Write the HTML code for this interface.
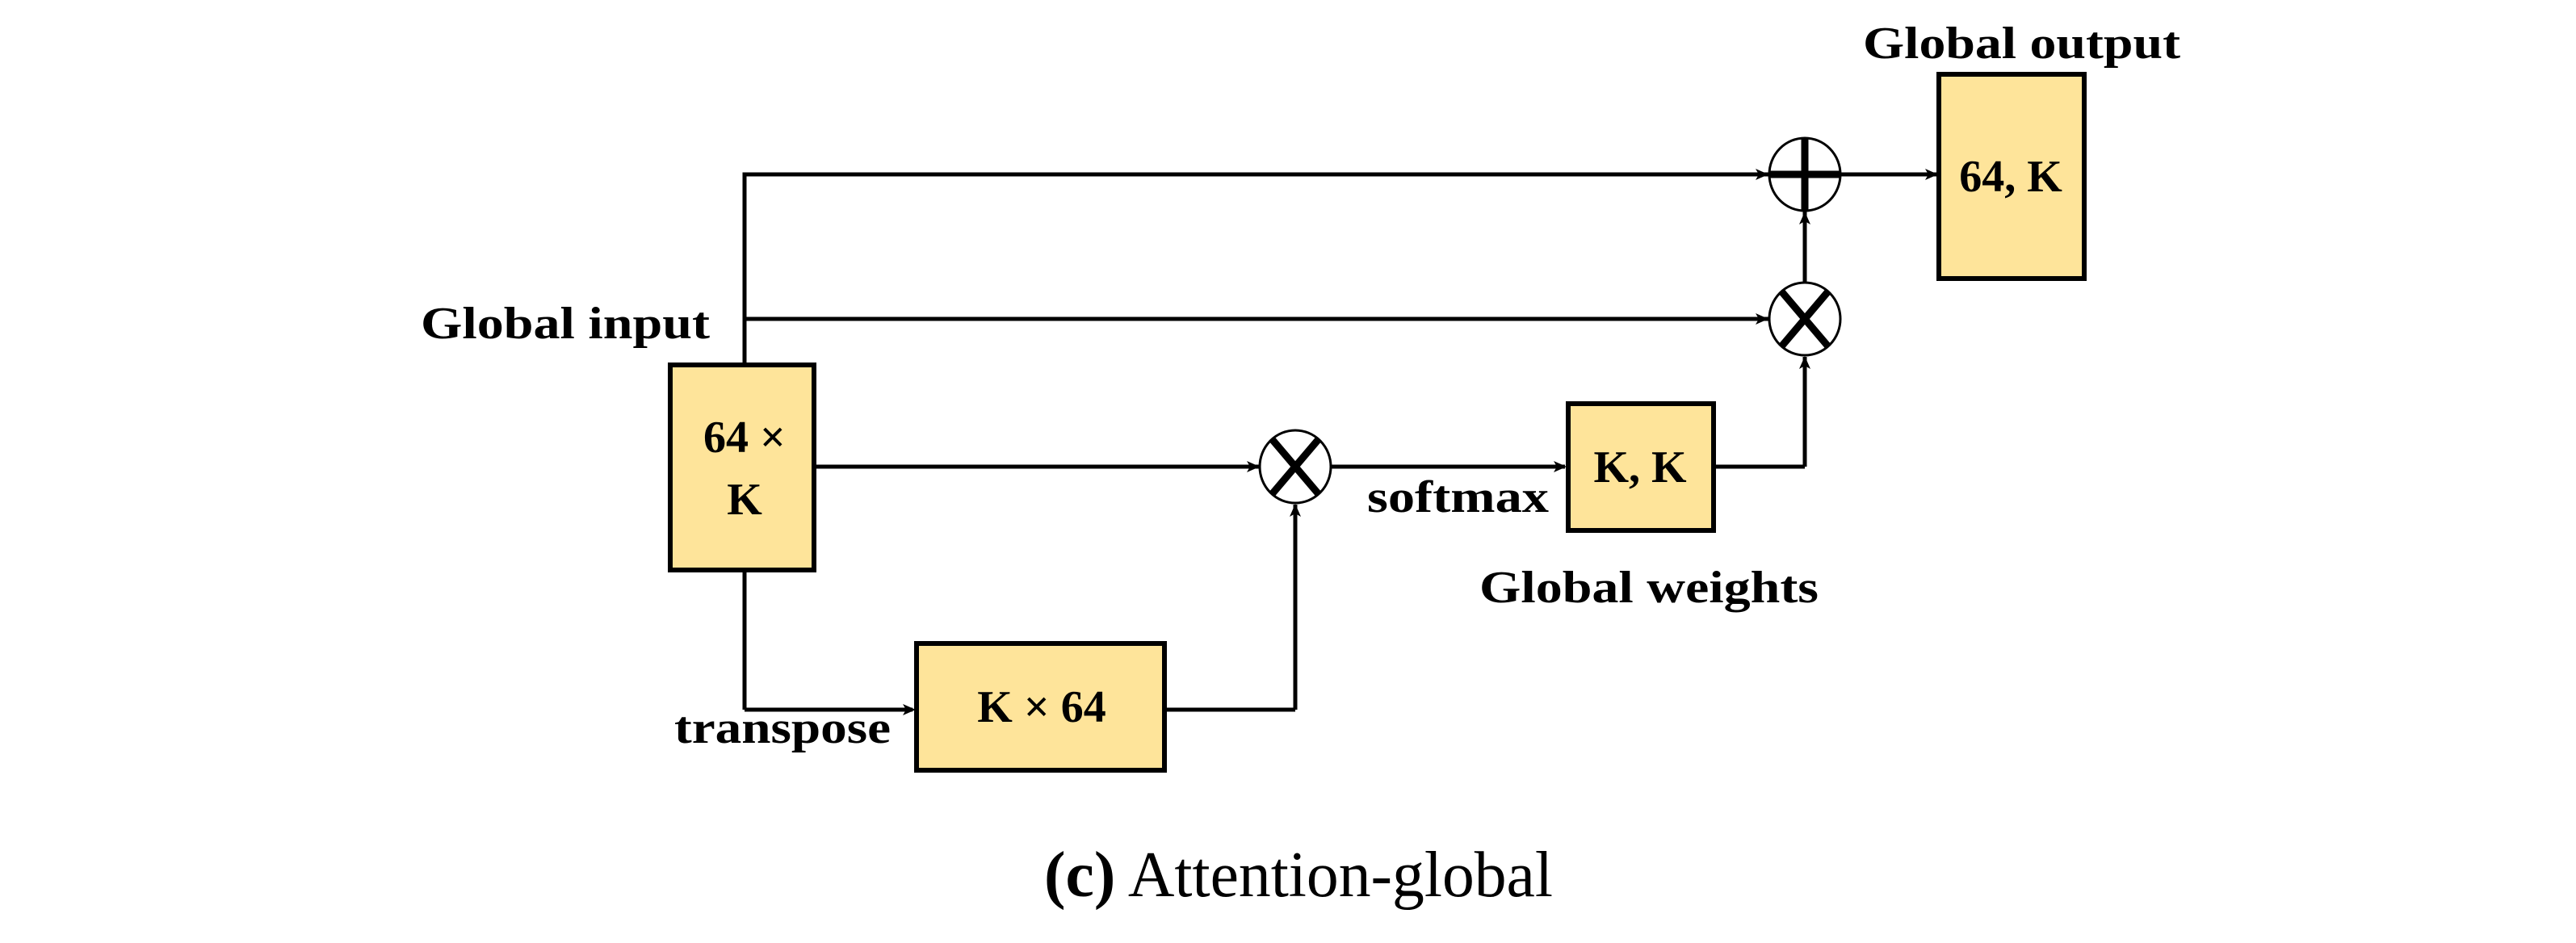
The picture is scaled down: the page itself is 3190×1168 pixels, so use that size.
<!DOCTYPE html>
<html><head><meta charset="utf-8"><style>html,body{margin:0;padding:0;background:#fff}svg{display:block}</style></head>
<body>
<svg width="3190" height="1168" viewBox="0 0 3190 1168" xmlns="http://www.w3.org/2000/svg">
<defs>
<marker id="a" markerWidth="10" markerHeight="8" refX="9" refY="4" orient="auto" markerUnits="userSpaceOnUse" viewBox="0 0 10 8">
<path d="M0,0 L10,4 L0,8 L3,4 z" fill="#000"/>
</marker>
</defs>
<g stroke="#000" stroke-width="5" fill="none">
<!-- top line -->
<polyline points="922,452 922,216 2189,216" marker-end="url(#a)" transform="translate(0,0)"/>
<line x1="922" y1="216" x2="2190" y2="216"/>
<line x1="922" y1="395" x2="2190" y2="395"/>
<line x1="1008" y1="578" x2="1560" y2="578"/>
<line x1="922" y1="706" x2="922" y2="879"/>
<line x1="922" y1="879" x2="1130" y2="879"/>
<line x1="1442" y1="879" x2="1604" y2="879"/>
<line x1="1604" y1="879" x2="1604" y2="625"/>
<line x1="1648" y1="578" x2="1938" y2="578"/>
<line x1="2122" y1="578" x2="2235" y2="578"/>
<line x1="2235" y1="578" x2="2235" y2="442"/>
<line x1="2235" y1="350" x2="2235" y2="262"/>
<line x1="2279" y1="216" x2="2398" y2="216"/>
</g>
<g fill="#000">
<path d="M2190,216 l-16,-7 l4,7 l-4,7z"/>
<path d="M2190,395 l-16,-7 l4,7 l-4,7z"/>
<path d="M1560,578 l-16,-7 l4,7 l-4,7z"/>
<path d="M1134,879 l-16,-7 l4,7 l-4,7z"/>
<path d="M1604,624 l-7,16 l7,-4 l7,4z"/>
<path d="M1940,578 l-16,-7 l4,7 l-4,7z"/>
<path d="M2235,441 l-7,16 l7,-4 l7,4z"/>
<path d="M2235,262 l-7,16 l7,-4 l7,4z"/>
<path d="M2400,216 l-16,-7 l4,7 l-4,7z"/>
</g>
<!-- circles -->
<g stroke="#000" fill="#fff">
<ellipse cx="2235" cy="216" rx="44" ry="45" stroke-width="3"/>
<ellipse cx="2235" cy="395" rx="44" ry="45" stroke-width="3"/>
<ellipse cx="1604" cy="578" rx="44" ry="45" stroke-width="3"/>
</g>
<g stroke="#000" stroke-width="9">
<line x1="2191" y1="216" x2="2279" y2="216"/>
<line x1="2235" y1="171" x2="2235" y2="261"/>
<line x1="2207" y1="362" x2="2263" y2="428"/>
<line x1="2263" y1="362" x2="2207" y2="428"/>
<line x1="1576" y1="545" x2="1632" y2="611"/>
<line x1="1632" y1="545" x2="1576" y2="611"/>
</g>
<!-- boxes -->
<g fill="#FEE49A" stroke="#000" stroke-width="6">
<rect x="830" y="452" width="178" height="254"/>
<rect x="2401" y="92" width="180" height="253"/>
<rect x="1942" y="500" width="180" height="157"/>
<rect x="1135" y="797" width="307" height="157"/>
</g>
<g font-family="'Liberation Serif', serif" font-weight="bold" font-size="56" fill="#000" text-anchor="middle">
<text x="922" y="560">64 ×</text>
<text x="922" y="637">K</text>
<text x="2490" y="237">64, K</text>
<text x="2031" y="597">K, K</text>
<text x="1290" y="894">K × 64</text>
</g>
<g font-family="'Liberation Serif', serif" font-weight="bold" font-size="56" fill="#000">
<text x="2307" y="72" textLength="393" lengthAdjust="spacingAndGlyphs">Global output</text>
<text x="521" y="419" textLength="358" lengthAdjust="spacingAndGlyphs">Global input</text>
<text x="1693" y="634" textLength="225" lengthAdjust="spacingAndGlyphs">softmax</text>
<text x="1832" y="746" textLength="420" lengthAdjust="spacingAndGlyphs">Global weights</text>
<text x="835" y="920" textLength="268" lengthAdjust="spacingAndGlyphs">transpose</text>
</g>
<text x="1293" y="1110" font-family="'Liberation Serif', serif" font-size="80" fill="#000" textLength="630" lengthAdjust="spacingAndGlyphs"><tspan font-weight="bold">(c)</tspan> Attention-global</text>
</svg>
</body></html>
